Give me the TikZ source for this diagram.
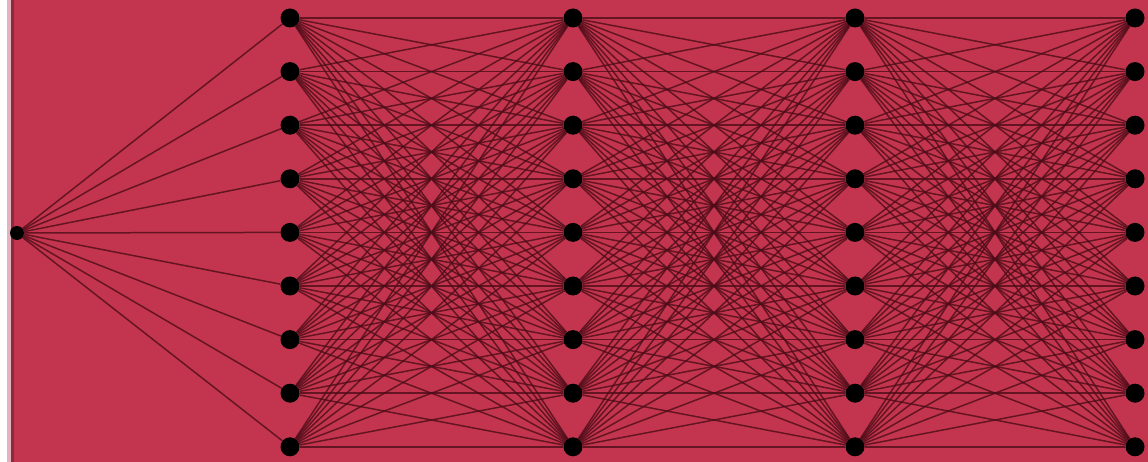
\documentclass[tikz,border=0pt]{standalone}
\usepackage{tikz}
\usetikzlibrary{backgrounds}
\definecolor{bgred}{HTML}{C3354E}
\definecolor{edgered}{HTML}{4E0C18}
\definecolor{paleedge}{HTML}{E2B4C0}
\definecolor{darkedge}{HTML}{8E2A3C}

\begin{document}
\begin{tikzpicture}[x=1pt, y=-1pt]
  \tikzstyle{neuron}=[circle, fill=black, inner sep=0pt, minimum size=19pt]
  \tikzstyle{link}=[draw=edgered, line width=1.5pt, opacity=0.8]
  \useasboundingbox (0,0) rectangle (1148,462);
  % input
  \node[neuron, minimum size=14pt] (in) at (17,233) {};
  % hidden layers
  \foreach \l/\x in {1/290, 2/573, 3/855, 4/1135} {
    \foreach \i in {1,...,9} {
      \node[neuron] (n\l-\i) at (\x, {18+53.6*(\i-1)}) {};
    }
  }
  \begin{scope}[on background layer]
    \fill[white] (0,0) rectangle (7,462);
    \fill[paleedge] (7,0) rectangle (11,462);
    \fill[darkedge] (11,0) rectangle (14,462);
    \fill[bgred] (14,0) rectangle (1148,462);
    \foreach \i in {1,...,9}
      \draw[link] (in) -- (n1-\i);
    \foreach \l/\m in {1/2, 2/3, 3/4} {
      \foreach \i in {1,...,9} {
        \foreach \j in {1,...,9}
          \draw[link] (n\l-\i) -- (n\m-\j);
      }
    }
  \end{scope}
\end{tikzpicture}
\end{document}
